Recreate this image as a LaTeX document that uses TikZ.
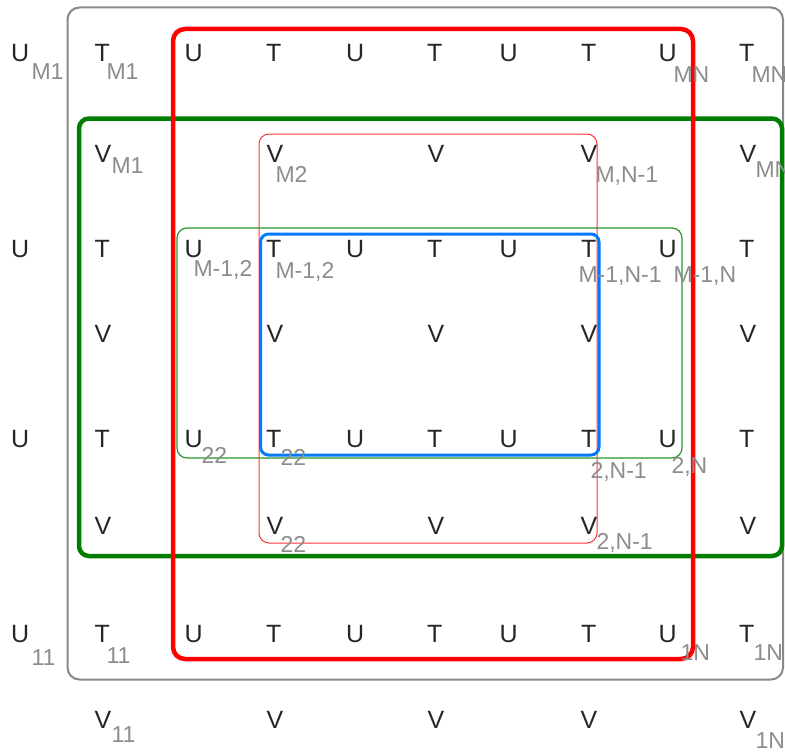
\documentclass[tikz,border=0pt]{standalone}
\usepackage{fontspec}
\setmainfont{Liberation Sans}
\definecolor{subgray}{RGB}{140,140,140}
\definecolor{boxgray}{RGB}{136,136,136}
\definecolor{dgreen}{RGB}{0,125,0}
\definecolor{lgreen}{RGB}{40,150,40}
\definecolor{tred}{RGB}{255,50,50}
\definecolor{bblue}{RGB}{0,122,255}
\begin{document}
\begin{tikzpicture}[x=1pt,y=-1pt,
  lt/.style={inner sep=0pt, outer sep=0pt, anchor=base west, font=\fontsize{25}{25}\selectfont, text=black!85},
  sb/.style={inner sep=0pt, outer sep=0pt, anchor=base west, font=\fontsize{23}{23}\selectfont, text=subgray},
  frame/.style={rounded corners=#1}]
\useasboundingbox (0,0) rectangle (785,752);
% frames
\draw[boxgray, line width=2pt, frame=12pt] (67.5,7.5) rectangle (783,679.5);
\draw[lgreen, line width=1.2pt, frame=10pt] (177,228) rectangle (682,458);
\draw[tred, line width=1pt, frame=10pt] (259,134) rectangle (597,543);
\draw[dgreen, line width=4.5pt, frame=10pt] (79,118.5) rectangle (782,556);
\draw[red, line width=4.5pt, frame=12pt] (173,29) rectangle (693,659);
\draw[bblue, line width=3pt, frame=8pt] (260.5,234) rectangle (599,455);
% U / T rows
\foreach \r/\yb in {1/62,3/257,5/447,7/642}{
  \foreach \c/\xb/\ch in {0/11/U,1/94.5/T,2/184.5/U,3/266/T,4/346/U,5/427/T,6/499.5/U,7/581/T,8/658.5/U,9/739/T}{
    \node[lt] (L\r-\c) at (\xb,\yb) {\ch};
  }
}
% V rows
\foreach \r/\yb in {2/162,4/342,6/534,8/728}{
  \foreach \c/\xb in {1/94.5,3/266.5,5/427.5,7/580.5,9/739.5}{
    \node[lt] (V\r-\c) at (\xb,\yb) {V};
  }
}
% subscripts
\node[sb] (sUM1) at (31.5,80) {M1};
\node[sb] (sTM1) at (106.5,80) {M1};
\node[sb] (sUMN) at (673.5,82) {MN};
\node[sb] (sTMN) at (751.5,82) {MN};
\node[sb] (sVM1) at (111.5,173) {M1};
\node[sb] (sVM2) at (275.5,182) {M2};
\node[sb] (sVMN1) at (595.5,182) {M,N-1};
\node[sb] (sVMN) at (755.5,177) {MN};
\node[sb] (sUM12) at (193.5,276) {M-1,2};
\node[sb] (sTM12) at (275.5,278) {M-1,2};
\node[sb] (sTM1N1) at (578.5,282) {M-1,N-1};
\node[sb] (sUM1N) at (673.5,282) {M-1,N};
\node[sb] (sU22) at (201.5,463) {22};
\node[sb] (sT22) at (280.5,465) {22};
\node[sb] (sT2N1) at (590.5,478) {2,N-1};
\node[sb] (sU2N) at (671.5,473) {2,N};
\node[sb] (sV22) at (280.5,552) {22};
\node[sb] (sV2N1) at (596.5,549) {2,N-1};
\node[sb] (sU11) at (31.5,665) {11};
\node[sb] (sT11) at (106.5,663) {11};
\node[sb] (sU1N) at (680.5,660) {1N};
\node[sb] (sT1N) at (753.5,660) {1N};
\node[sb] (sV11) at (111.5,742) {11};
\node[sb] (sV1N) at (755.5,748) {1N};
\end{tikzpicture}
\end{document}
